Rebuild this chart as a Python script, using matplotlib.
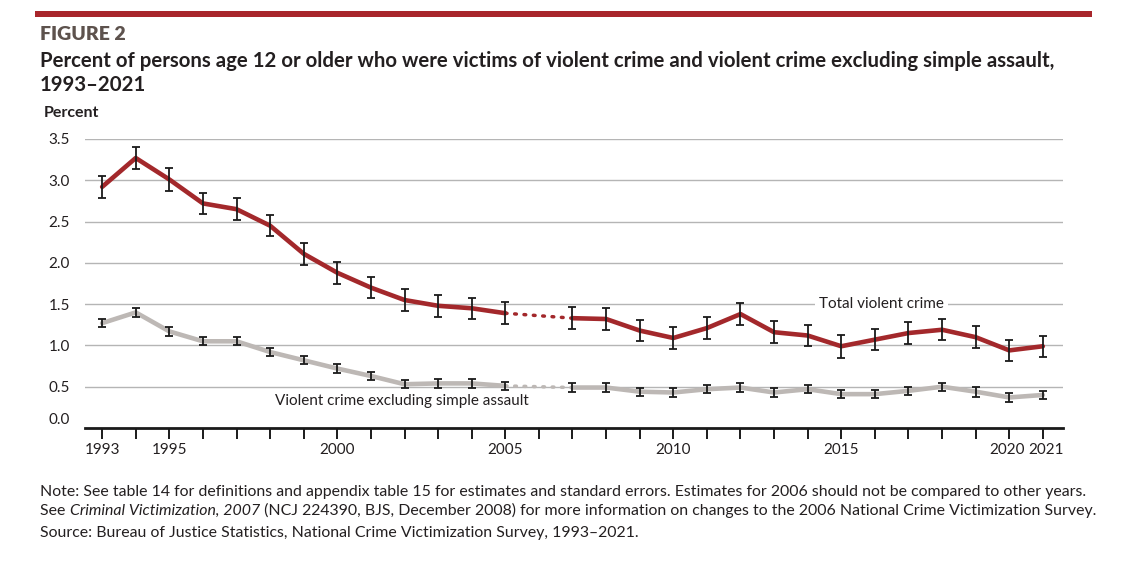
import matplotlib
matplotlib.use("Agg")
import matplotlib.pyplot as plt
import matplotlib.transforms as mtransforms
import numpy as np

years = list(range(1993, 2022))
total = [2.92, 3.27, 3.01, 2.72, 2.65, 2.45, 2.11, 1.88, 1.70, 1.55, 1.48, 1.45, 1.39, np.nan,
         1.33, 1.32, 1.18, 1.09, 1.21, 1.38, 1.16, 1.12, 0.99, 1.07, 1.15, 1.19, 1.10, 0.94, 0.99]
total_se = [0.13, 0.135, 0.135, 0.13, 0.13, 0.13, 0.13, 0.13, 0.13, 0.135, 0.133, 0.13, 0.13, np.nan,
            0.135, 0.13, 0.13, 0.13, 0.13, 0.13, 0.13, 0.13, 0.14, 0.13, 0.13, 0.13, 0.13, 0.13, 0.13]
excl = [1.27, 1.40, 1.17, 1.05, 1.05, 0.92, 0.82, 0.72, 0.63, 0.53, 0.54, 0.54, 0.51, np.nan,
        0.49, 0.49, 0.44, 0.43, 0.47, 0.49, 0.43, 0.47, 0.41, 0.41, 0.45, 0.50, 0.44, 0.37, 0.40]
excl_se = [0.05, 0.05, 0.05, 0.05, 0.05, 0.05, 0.05, 0.05, 0.05, 0.05, 0.05, 0.05, 0.05, np.nan,
           0.05, 0.05, 0.05, 0.05, 0.05, 0.05, 0.05, 0.05, 0.05, 0.05, 0.05, 0.05, 0.06, 0.05, 0.05]
xtick_labels = [1993, 1995, 2000, 2005, 2010, 2015, 2020, 2021]
yticks = [0.0, 0.5, 1.0, 1.5, 2.0, 2.5, 3.0, 3.5]

RED = "#a3282b"
GREY = "#bdb8b5"
TXT = "#231f20"

plt.rcParams["font.family"] = ["Lato", "DejaVu Sans"]

fig = plt.figure(figsize=(11.38, 5.7), dpi=100)

# top bar and titles
fig.patches.append(plt.Rectangle((35 / 1138, 1 - 17 / 570), 1057 / 1138, 6 / 570,
                                 transform=fig.transFigure, color="#a8262b", lw=0))
fig.text(40 / 1138, 1 - 34 / 570, "FIGURE 2", weight="heavy", fontsize=14,
         color="#5d524d", va="center")
fig.text(40 / 1138, 1 - 61 / 570,
         "Percent of persons age 12 or older who were victims of violent crime and violent crime excluding simple assault,",
         weight="bold", fontsize=14.7, color=TXT, va="center")
fig.text(40 / 1138, 1 - 85 / 570, "1993\u20132021", weight="bold", fontsize=14.7,
         color=TXT, va="center")
fig.text(44 / 1138, 1 - 113 / 570, "Percent", fontsize=11.5, weight="bold", color=TXT, va="center")

ax = fig.add_axes([85 / 1138, 142 / 570, 978 / 1138, 289 / 570])
ax.set_xlim(1992.49, 2021.6)
ax.set_ylim(0, 3.5)

for y in yticks[1:]:
    ax.axhline(y, color="#b5b5b5", lw=1, zorder=1)

yrs = np.array(years)
t = np.array(total)
e = np.array(excl)

for arr, col in [(t, RED), (e, GREY)]:
    ax.plot(yrs, arr, color=col, lw=3.3, zorder=3, solid_capstyle="round")
    ax.plot([2005, 2007], [arr[yrs == 2005][0], arr[yrs == 2007][0]], color=col, lw=2.5,
            ls=(0, (0.5, 2.2)), dash_capstyle="round", zorder=3)

ax.errorbar(yrs, t, yerr=total_se, fmt="none", ecolor="#1a1a1a", elinewidth=1.3, capsize=3,
            capthick=1.3, zorder=4)
ax.errorbar(yrs, e, yerr=excl_se, fmt="none", ecolor="#1a1a1a", elinewidth=1.3, capsize=3,
            capthick=1.3, zorder=4)

ax.text(2016.2, 1.5, "Total violent crime", fontsize=11, color=TXT, ha="center", va="center",
        bbox=dict(facecolor="white", edgecolor="none", pad=3), zorder=2)
ax.text(1998.15, 0.33, "Violent crime excluding simple assault", fontsize=11, color=TXT,
        ha="left", va="center", zorder=2)

for s in ["top", "right", "left"]:
    ax.spines[s].set_visible(False)
ax.spines["bottom"].set_linewidth(2)
ax.spines["bottom"].set_color("#1a1a1a")

ax.set_xticks(years)
ax.set_xticklabels([str(y) if y in xtick_labels else "" for y in years], fontsize=11, color=TXT)
ax.tick_params(axis="x", length=8, width=1.4, color="#1a1a1a", pad=3)
ax.set_yticks(yticks)
ax.set_yticklabels(["%.1f" % v for v in yticks], fontsize=11, color=TXT)
ax.tick_params(axis="y", length=0, pad=11)

# nudge a few labels the way the reference does
xl = ax.get_xticklabels()
xl[years.index(2020)].set_transform(xl[0].get_transform() + mtransforms.ScaledTranslation(-2 / 100, 0, fig.dpi_scale_trans))
xl[years.index(2021)].set_transform(xl[0].get_transform() + mtransforms.ScaledTranslation(3 / 100, 0, fig.dpi_scale_trans))
yl = ax.get_yticklabels()
yl[0].set_transform(yl[0].get_transform() + mtransforms.ScaledTranslation(0, 9 / 100, fig.dpi_scale_trans))

# notes
fig.text(40 / 1138, 1 - 492 / 570,
         "Note: See table 14 for definitions and appendix table 15 for estimates and standard errors. "
         "Estimates for 2006 should not be compared to other years.",
         fontsize=11.4, color=TXT, va="center")
y2 = 1 - 515 / 570
p1 = fig.text(40 / 1138, y2, "See ", fontsize=11.4, color=TXT, va="baseline")
p2 = fig.text(0, y2, "Criminal Victimization, 2007", fontsize=11.4, color=TXT, style="italic", va="baseline")
p3 = fig.text(0, y2, " (NCJ 224390, BJS, December 2008) for more information on changes to the "
              "2006 National Crime Victimization Survey.", fontsize=11.4, color=TXT, va="baseline")
fig.canvas.draw()
r = fig.canvas.get_renderer()
bb = p1.get_window_extent(r)
p2.set_x(bb.x1 / fig.bbox.width)
bb = p2.get_window_extent(r)
p3.set_x(bb.x1 / fig.bbox.width)
fig.text(40 / 1138, 1 - 533 / 570,
         "Source: Bureau of Justice Statistics, National Crime Victimization Survey, 1993\u20132021.",
         fontsize=11.4, color=TXT, va="center")

fig.savefig("out.png", dpi=100)
